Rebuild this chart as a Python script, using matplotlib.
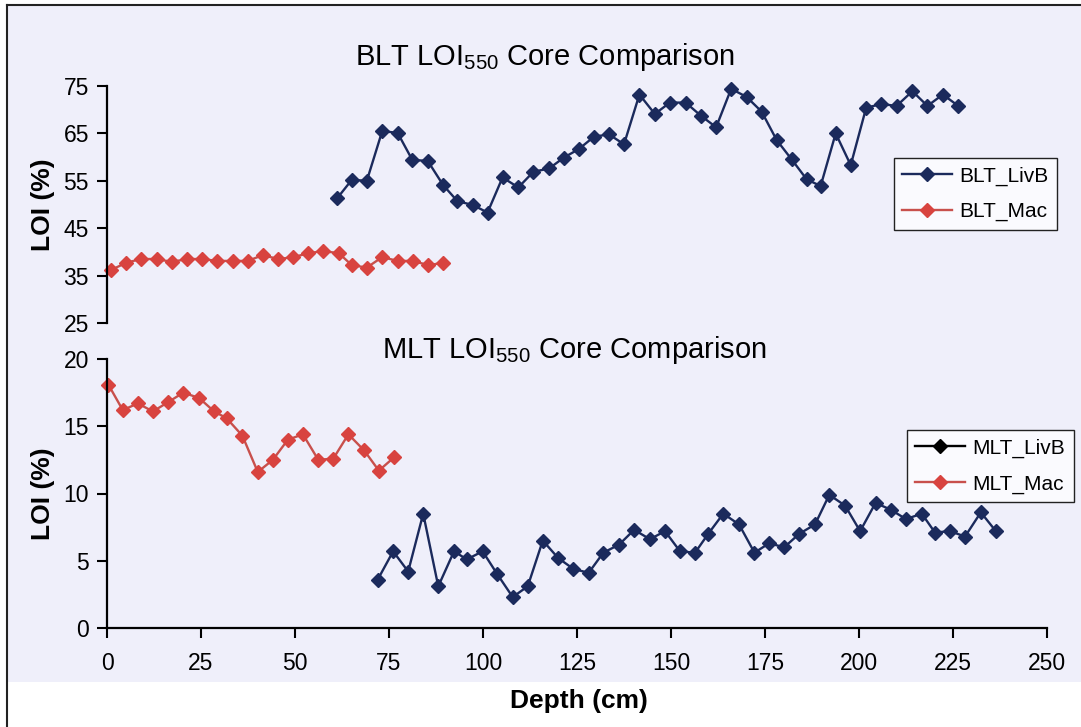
import matplotlib
matplotlib.use("Agg")
import matplotlib.pyplot as plt
from matplotlib.lines import Line2D
from matplotlib.patches import Rectangle

plt.rcParams['font.family'] = ['Liberation Sans', 'DejaVu Sans']
plt.rcParams['mathtext.default'] = 'regular'

# ---- data ----
blt_livb_depth = [61.3, 65.1, 69.1, 73.2, 77.3, 81.2, 85.3, 89.4, 93.2, 97.3, 101.2, 105.2, 109.4, 113.4,
                  117.6, 121.5, 125.5, 129.5, 133.5, 137.5, 141.6, 145.7, 149.7, 153.9, 158.0, 162.0, 166.0,
                  170.1, 174.1, 178.1, 182.1, 186.1, 189.8, 193.8, 197.8, 201.9, 205.9, 210.0, 214.2, 218.2,
                  222.3, 226.4]
blt_livb_loi = [51.4, 55.2, 55.0, 65.5, 65.1, 59.4, 59.2, 54.1, 50.7, 49.9, 48.3, 55.7, 53.6, 56.9,
                57.6, 59.9, 61.7, 64.3, 64.8, 62.7, 73.2, 69.1, 71.5, 71.5, 68.7, 66.3, 74.4,
                72.7, 69.6, 63.6, 59.5, 55.3, 53.9, 65.0, 58.3, 70.4, 71.2, 70.8, 73.9, 70.8,
                73.2, 70.8]
blt_mac_depth = [1.1, 5.1, 9.0, 13.2, 17.2, 21.4, 25.3, 29.3, 33.4, 37.4, 41.4, 45.6, 49.6, 53.5, 57.5,
                 61.7, 65.1, 69.1, 73.2, 77.3, 81.3, 85.5, 89.4]
blt_mac_loi = [36.2, 37.7, 38.5, 38.5, 37.9, 38.5, 38.5, 38.1, 38.1, 38.1, 39.3, 38.5, 38.9, 39.7, 40.2,
               39.7, 37.2, 36.7, 38.9, 38.1, 38.1, 37.2, 37.7]
mlt_mac_depth = [0.35, 4.2, 8.2, 12.2, 16.3, 20.3, 24.5, 28.5, 31.8, 36.0, 40.1, 44.1, 48.1, 52.1, 56.2,
                 60.2, 64.2, 68.4, 72.3, 76.4]
mlt_mac_loi = [18.1, 16.2, 16.7, 16.1, 16.8, 17.5, 17.1, 16.1, 15.6, 14.3, 11.6, 12.5, 14.0, 14.4, 12.5,
               12.6, 14.4, 13.2, 11.7, 12.7]
mlt_livb_depth = [72.0, 76.1, 80.1, 84.1, 88.1, 92.3, 95.7, 99.9, 103.8, 107.9, 111.9, 115.9, 120.0, 124.0,
                  128.1, 132.0, 136.2, 140.2, 144.4, 148.4, 152.4, 156.4, 159.9, 163.9, 168.1, 172.2, 176.1,
                  180.1, 184.1, 188.3, 192.1, 196.3, 200.3, 204.4, 208.4, 212.5, 216.7, 220.2, 224.2, 228.2,
                  232.4, 236.4]
mlt_livb_loi = [3.6, 5.7, 4.2, 8.5, 3.1, 5.7, 5.1, 5.7, 4.0, 2.3, 3.1, 6.5, 5.2, 4.4,
                4.1, 5.6, 6.2, 7.3, 6.6, 7.2, 5.7, 5.6, 7.0, 8.5, 7.7, 5.6, 6.3,
                6.0, 7.0, 7.7, 9.9, 9.1, 7.2, 9.3, 8.8, 8.1, 8.5, 7.1, 7.2, 6.8,
                8.6, 7.2]

x_ticks = [0, 25, 50, 75, 100, 125, 150, 175, 200, 225, 250]
top_yticks = [25, 35, 45, 55, 65, 75]
bot_yticks = [0, 5, 10, 15, 20]

NAVY = '#1b2a5c'
RED = '#d8433f'
REDLINE = '#c8504c'
BG = '#efeffa'

W, H = 1081, 727
fig = plt.figure(figsize=(W / 100, H / 100), dpi=100)
fig.patch.set_facecolor('white')

# scanned page background & frame
fig.patches.append(Rectangle((7 / W, 1 - 682 / H), 1 - 7 / W, (682 - 5) / H,
                             transform=fig.transFigure, facecolor=BG, edgecolor='none', zorder=-5))
fig.lines.append(Line2D([7 / W, 7 / W], [0, 1 - 5 / H], transform=fig.transFigure, color='#222222',
                        lw=1.5, zorder=-4))
fig.lines.append(Line2D([7 / W, 1], [1 - 5 / H, 1 - 5 / H], transform=fig.transFigure, color='#222222',
                        lw=1.5, zorder=-4))

x0 = 107 / W
wid = (1047 - 107) / W
ax1 = fig.add_axes([x0, 1 - 323 / H, wid, (323 - 86) / H])
ax2 = fig.add_axes([x0, 1 - 628 / H, wid, (628 - 359) / H])

MS = 7
mk = dict(marker='D', markersize=MS, lw=1.7, clip_on=False)

ax1.plot(blt_livb_depth, blt_livb_loi, color=NAVY, mfc=NAVY, mec=NAVY, **mk)
ax1.plot(blt_mac_depth, blt_mac_loi, color=REDLINE, mfc=RED, mec=RED, **mk)
ax2.plot(mlt_livb_depth, mlt_livb_loi, color=NAVY, mfc=NAVY, mec=NAVY, **mk)
ax2.plot(mlt_mac_depth, mlt_mac_loi, color=REDLINE, mfc=RED, mec=RED, **mk)

for ax in (ax1, ax2):
    ax.set_facecolor('none')
    ax.set_xlim(0, 250)
    for s in ('top', 'right'):
        ax.spines[s].set_visible(False)
    ax.spines['left'].set_linewidth(1.6)
    ax.spines['bottom'].set_linewidth(1.6)
    ax.tick_params(axis='both', direction='out', length=7, width=1.5, labelsize=16.5, pad=6)
    ax.set_ylabel('LOI (%)', fontsize=19, fontweight='bold', labelpad=6)

ax1.set_ylim(25, 75)
ax1.set_yticks(top_yticks)
ax1.spines['bottom'].set_visible(False)
ax1.set_xticks([])
ax2.set_ylim(0, 20)
ax2.set_yticks(bot_yticks)
ax2.set_xticks(x_ticks)
ax2.tick_params(axis='x', labelsize=16.5, pad=10)

fig.text(545 / W, 1 - 57 / H, 'BLT LOI$_{550}$ Core Comparison', fontsize=21, ha='center', va='center')
fig.text(574 / W, 1 - 350 / H, 'MLT LOI$_{550}$ Core Comparison', fontsize=21, ha='center', va='center')
fig.text(579 / W, 1 - 701 / H, 'Depth (cm)', fontsize=19, fontweight='bold', ha='center', va='center')

leg_kw = dict(fontsize=15, frameon=True, fancybox=False, edgecolor='#222222', facecolor='#fafafe',
              framealpha=1, handlelength=2.4, handletextpad=0.35, borderpad=0.4, labelspacing=0.8,
              borderaxespad=0)
h1 = [Line2D([], [], color=NAVY, marker='D', ms=MS, mfc=NAVY, mec=NAVY, lw=1.7),
      Line2D([], [], color=REDLINE, marker='D', ms=MS, mfc=RED, mec=RED, lw=1.7)]
l1 = ax1.legend(h1, ['BLT_LivB', 'BLT_Mac'], loc='upper left',
                bbox_to_anchor=(894 / W, 1 - 158 / H), bbox_transform=fig.transFigure, **leg_kw)
l1.get_frame().set_linewidth(1.0)
h2 = [Line2D([], [], color='black', marker='D', ms=MS, mfc='black', mec='black', lw=1.7),
      Line2D([], [], color=REDLINE, marker='D', ms=MS, mfc=RED, mec=RED, lw=1.7)]
l2 = ax2.legend(h2, ['MLT_LivB', 'MLT_Mac'], loc='upper left',
                bbox_to_anchor=(907 / W, 1 - 430 / H), bbox_transform=fig.transFigure, **leg_kw)
l2.get_frame().set_linewidth(1.0)

fig.savefig('out.png', dpi=100)
